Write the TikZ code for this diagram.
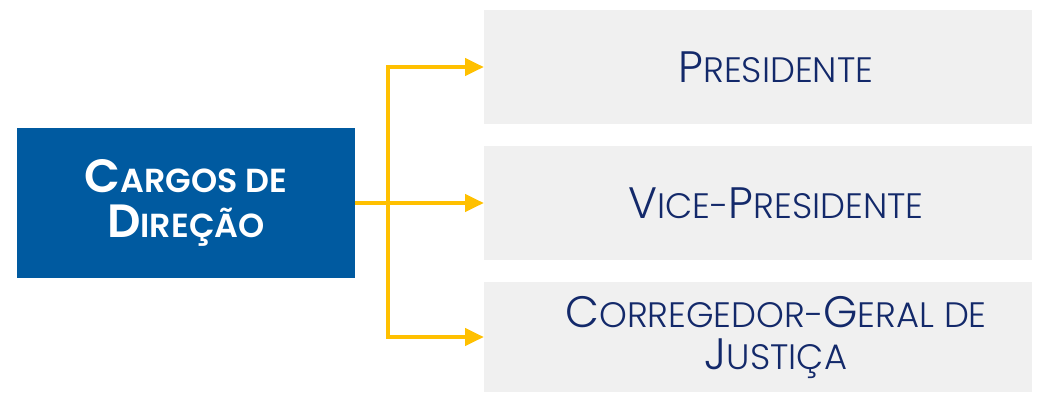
\documentclass[tikz,border=0pt]{standalone}
\usepackage{fontspec}
\setmainfont{Poppins}[UprightFont=* Light,BoldFont=* SemiBold]
\usetikzlibrary{arrows.meta}

\definecolor{cargoblue}{HTML}{005AA0}
\definecolor{cargogray}{HTML}{F0F0F0}
\definecolor{linkyellow}{HTML}{FFC000}
\definecolor{cargonavy}{HTML}{13296A}

% capitals and smaller capitals, for the small-caps look
\newcommand{\hcap}[1]{{\fontsize{35}{34}\selectfont #1}}
\newcommand{\hsml}[1]{{\fontsize{25}{34}\selectfont #1}}
\newcommand{\rcap}[1]{{\fontsize{33}{31.5}\selectfont #1}}
\newcommand{\rsml}[1]{{\fontsize{26.5}{31.5}\selectfont #1}}

\tikzset{
  headbox/.style={fill=cargoblue,draw=none,minimum width=253.5pt,minimum height=113pt,
    text=white,align=center,font=\fontsize{25}{34}\selectfont\bfseries},
  rolebox/.style={fill=cargogray,draw=none,minimum width=411pt,minimum height=86pt},
  roletext/.style={text=cargonavy,align=center,xshift=13.5pt,
    font=\fontsize{26.5}{31.5}\selectfont},
  link/.style={draw=linkyellow,line width=2.4pt},
  linkarrow/.style={link,-{Triangle[length=14pt,width=13pt]}}
}

\begin{document}
\begin{tikzpicture}[x=0.75pt,y=-0.75pt]
            \useasboundingbox (0,0) rectangle (1046,393);

            \node (cargos) at (186,203) [headbox] {\hcap{C}\hsml{ARGOS DE}\\\hcap{D}\hsml{IREÇÃO}};

            \node (pres) at (758,67) [rolebox,
              label={[roletext]center:{\rcap{P}\rsml{RESIDENTE}}}] {};
            \node (vice) at (758,203) [rolebox,
              label={[roletext]center:{\rcap{V}\rsml{ICE-}\rcap{P}\rsml{RESIDENTE}}}] {};
            \node (corr) at (758,337) [rolebox,minimum height=82pt,
              label={[roletext]center:{\rcap{C}\rsml{ORREGEDOR-}\rcap{G}\rsml{ERAL DE}\\\rcap{J}\rsml{USTIÇA}}}] {};

            \coordinate (split) at (388,203);

            \draw[link] (cargos.east) -- (split);
            \draw[linkarrow] (split) -- (vice.west);
            \draw[linkarrow] (split) |- (pres.west);
            \draw[linkarrow] (split) |- (corr.west);

        \end{tikzpicture}
\end{document}
